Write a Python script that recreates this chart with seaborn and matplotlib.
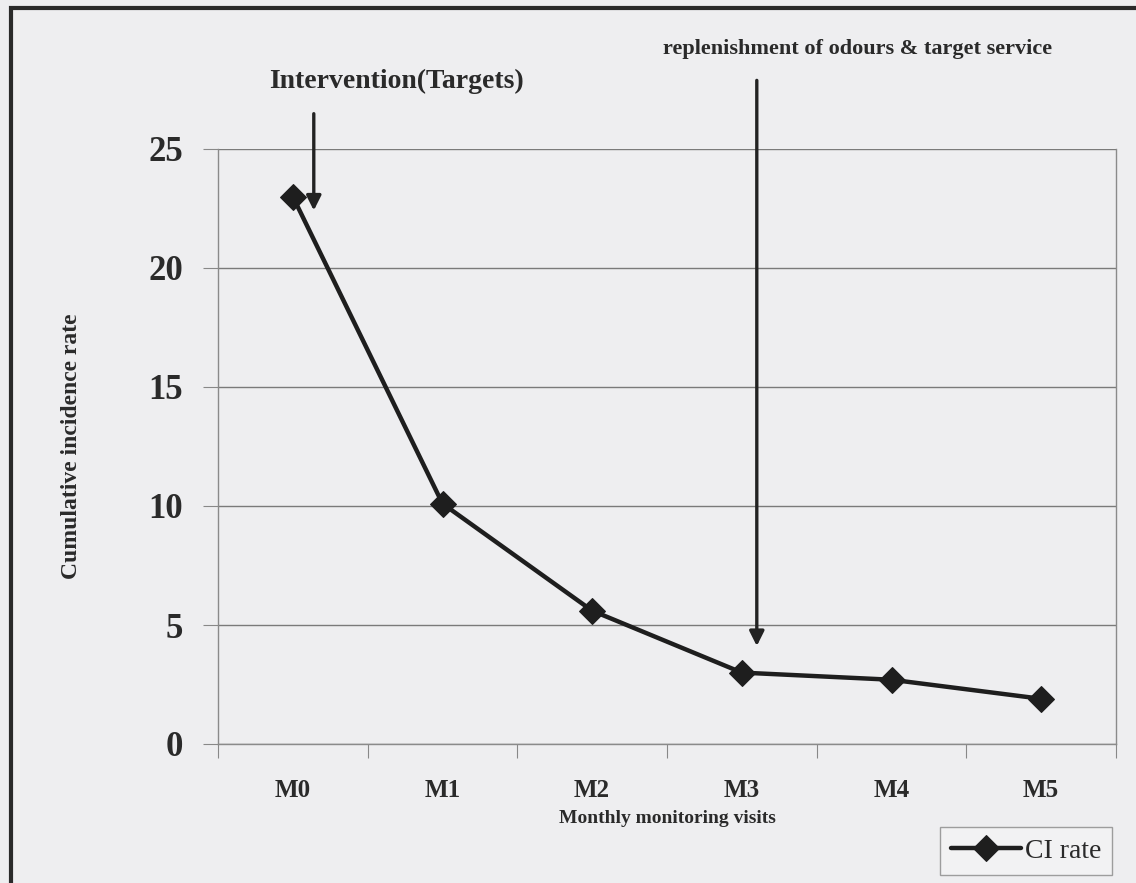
import matplotlib
matplotlib.use("Agg")
import matplotlib.pyplot as plt
import seaborn as sns
import pandas as pd
from matplotlib.patches import Rectangle
from matplotlib.font_manager import FontProperties

months = ["M0", "M1", "M2", "M3", "M4", "M5"]
ci_rate = [23.0, 10.1, 5.6, 3.0, 2.7, 1.9]
y_ticks = [0, 5, 10, 15, 20, 25]

df = pd.DataFrame({"month": months, "CI rate": ci_rate})

sns.set_theme(style="white")
plt.rcParams['font.family'] = ['Liberation Serif', 'DejaVu Serif']

bg = "#eeeef0"
fig = plt.figure(figsize=(11.36, 8.83), dpi=100, facecolor=bg)
ax = fig.add_axes([218/1136, 1-744/883, (1116-218)/1136, (744-149)/883])
ax.set_facecolor(bg)

sns.lineplot(data=df, x="month", y="CI rate", ax=ax, color="#1e1e1e",
             linewidth=3.2, marker="D", markersize=13, markeredgecolor="#1e1e1e",
             label="CI rate", sort=False)

ax.set_xlim(-0.5, 5.5)
ax.set_ylim(0, 25)
ax.set_yticks(y_ticks)
ax.set_yticklabels([str(t) for t in y_ticks], fontsize=25, fontweight="bold", color="#2a2a2a")
ax.yaxis.grid(True, color="#7a7a7a", linewidth=1.0)
ax.set_axisbelow(True)

ax.set_xticks(range(len(months)))
ax.set_xticklabels(months, fontsize=18, fontweight="bold", color="#2a2a2a")
ax.set_xticks([i - 0.5 for i in range(len(months) + 1)], minor=True)
ax.tick_params(axis="x", which="major", length=0, pad=25)
ax.tick_params(axis="x", which="minor", length=10, width=0.8, color="#888888", direction="out")
ax.tick_params(axis="y", which="major", length=11, width=0.8, color="#888888", direction="out", pad=14)
ax.tick_params(left=True, bottom=True, which="both")

for side in ["left", "bottom", "right"]:
    ax.spines[side].set_visible(True)
    ax.spines[side].set_color("#8a8a8a")
    ax.spines[side].set_linewidth(1.0)
ax.spines["top"].set_visible(False)

ax.set_xlabel("Monthly monitoring visits", fontsize=14, fontweight="bold", color="#2a2a2a", labelpad=6)
ax.set_ylabel("Cumulative incidence rate", fontsize=17, fontweight="bold", color="#2a2a2a", labelpad=48)

# annotations
ax.annotate("", xy=(0.14, 22.3), xytext=(0.14, 26.6),
            arrowprops=dict(arrowstyle="-|>", color="#222222", lw=2.4, mutation_scale=22),
            annotation_clip=False)
ax.text(0.69, 27.3, "Intervention(Targets)", fontsize=20, fontweight="bold",
        ha="center", va="bottom", color="#2a2a2a")
ax.annotate("", xy=(3.1, 4.0), xytext=(3.1, 28.0),
            arrowprops=dict(arrowstyle="-|>", color="#222222", lw=2.4, mutation_scale=22),
            annotation_clip=False)
ax.text(3.77, 28.8, "replenishment of odours & target service", fontsize=16, fontweight="bold",
        ha="center", va="bottom", color="#2a2a2a")

leg = ax.legend(loc="lower left", bbox_to_anchor=(940/1136, 8/883), bbox_transform=fig.transFigure,
                borderaxespad=0, frameon=True, fancybox=False, handlelength=2.5, borderpad=0.4,
                handletextpad=0.15, prop=FontProperties(family="Liberation Serif", size=20))
leg.get_frame().set_edgecolor("#888888")
leg.get_frame().set_facecolor("#f4f4f4")
leg.get_frame().set_linewidth(1.0)
for t in leg.get_texts():
    t.set_color("#2a2a2a")

# outer border
fig.patches.append(Rectangle((11/1136, -0.05), 1.2, 1-8/883+0.05, transform=fig.transFigure,
                             fill=False, edgecolor="#2a2a2a", linewidth=3))

fig.savefig("out.png", dpi=100, facecolor=bg)
